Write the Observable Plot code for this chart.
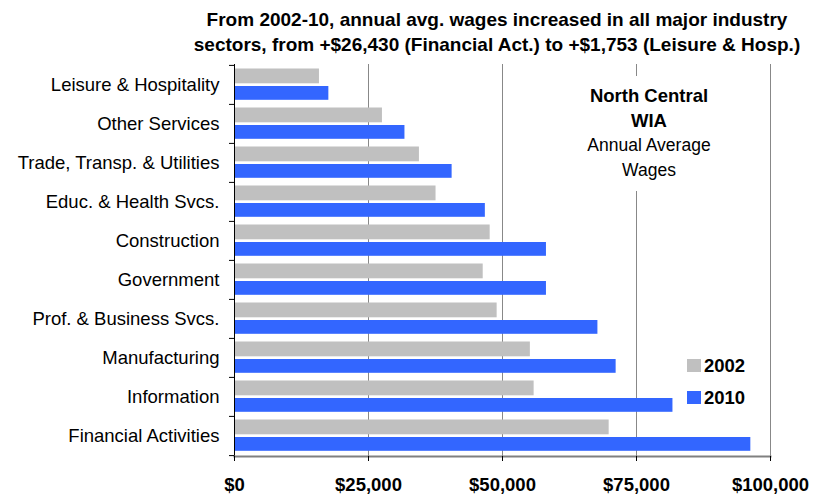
<!DOCTYPE html>
<html>
<head>
<meta charset="utf-8">
<script src="https://cdn.jsdelivr.net/npm/d3@7"></script>
<script src="https://cdn.jsdelivr.net/npm/@observablehq/plot@0.6"></script>
<style>
  body { margin: 0; background: #fff; font-family: "Liberation Sans", Arial, Helvetica, sans-serif; color: #000; }
  #wrap { position: relative; width: 824px; height: 495px; overflow: hidden; }
  #title { margin-left: 170px; width: 654px; height: 58px; box-sizing: border-box; padding-top: 6.5px;
           text-align: center; font-weight: bold; font-size: 19px; line-height: 25.7px; white-space: nowrap; }
  #chart svg { display: block; overflow: visible; }
  #note { position: absolute; left: 574px; top: 76px; width: 150px; box-sizing: border-box; padding: 8px 0 9px 0;
          background: #fff; text-align: center; line-height: 24.5px; }
  #note .b { font-weight: bold; font-size: 18.5px; }
  #note .r { font-size: 17.5px; }
  .sw { position: absolute; left: 687px; width: 14px; height: 13px; }
  .lt { position: absolute; left: 704px; font-weight: bold; font-size: 18.5px; line-height: 20px; }
</style>
</head>
<body>
<div id="wrap">
  <div id="title"></div>
  <div id="chart"></div>
  <div id="note"></div>
  <div id="legend"></div>
</div>
<script>
const titleLines = [
  "From 2002-10, annual avg. wages increased in all major industry",
  "sectors, from +$26,430 (Financial Act.) to +$1,753 (Leisure & Hosp.)"
];
const noteBold = ["North Central", "WIA"];
const noteRegular = ["Annual Average", "Wages"];
const categories = [
  "Leisure & Hospitality",
  "Other Services",
  "Trade, Transp. & Utilities",
  "Educ. & Health Svcs.",
  "Construction",
  "Government",
  "Prof. & Business Svcs.",
  "Manufacturing",
  "Information",
  "Financial Activities"
];
const wages2002 = [15850, 27600, 34500, 37600, 47700, 46400, 49000, 55200, 55900, 69900];
const wages2010 = [17603, 31800, 40600, 46800, 58200, 58200, 67800, 71200, 81800, 96330];
const xTicks = [0, 25000, 50000, 75000, 100000];
const seriesNames = ["2002", "2010"];
const seriesColors = ["#C0C0C0", "#3366FF"];

// Title
document.getElementById("title").innerHTML = titleLines.map(t => `<div>${t.replace(/&/g, "&amp;")}</div>`).join("");
// Annotation
document.getElementById("note").innerHTML =
  noteBold.map(t => `<div class="b">${t}</div>`).join("") +
  noteRegular.map(t => `<div class="r">${t}</div>`).join("");
// Legend
const legendTops = [359, 391];
document.getElementById("legend").innerHTML = seriesNames.map((s, i) =>
  `<div class="sw" style="top:${legendTops[i]}px;background:${seriesColors[i]}"></div>` +
  `<div class="lt" style="top:${legendTops[i] - 3.4}px">${s}</div>`).join("");

const rows2002 = categories.map((c, i) => ({category: c, value: wages2002[i]}));
const rows2010 = categories.map((c, i) => ({category: c, value: wages2010[i]}));

const W = 824, H = 437, mTop = 6, mBottom = 39, mLeft = 234, mRight = 54;
const bw = (H - mTop - mBottom) / categories.length;
const fmt = d => "$" + d3.format(",")(d);

const chart = Plot.plot({
  width: W,
  height: H,
  marginTop: mTop,
  marginBottom: mBottom,
  marginLeft: mLeft,
  marginRight: mRight,
  style: {fontFamily: "'Liberation Sans', Arial, Helvetica, sans-serif", color: "#000", background: "transparent", overflow: "visible"},
  x: {domain: [0, 100000]},
  y: {domain: categories, type: "band", padding: 0},
  marks: [
    Plot.ruleX(xTicks.slice(1), {stroke: "#888", strokeWidth: 1}),
    Plot.barX(rows2002, {x: "value", y: "category", fill: seriesColors[0], insetTop: 3.5, insetBottom: bw - 18.5}),
    Plot.barX(rows2010, {x: "value", y: "category", fill: seriesColors[1], insetTop: 21, insetBottom: bw - 35}),
    Plot.ruleX([0], {stroke: "#000", strokeWidth: 1}),
    Plot.frame({anchor: "bottom", stroke: "#808080", strokeWidth: 2}),
    Plot.axisX({ticks: xTicks, tickFormat: fmt, tickSize: 5, tickPadding: 16, fontSize: 18.5, fontWeight: "bold", label: null}),
    Plot.axisY({tickSize: 0, tickPadding: 15, fontSize: 18.5, label: null}),
    Plot.axisY({tickSize: 5, text: null, dy: -bw / 2, label: null}),
    Plot.axisY({ticks: categories.slice(-1), tickSize: 5, text: null, dy: bw / 2, label: null})
  ]
});
document.getElementById("chart").appendChild(chart);
</script>
</body>
</html>
